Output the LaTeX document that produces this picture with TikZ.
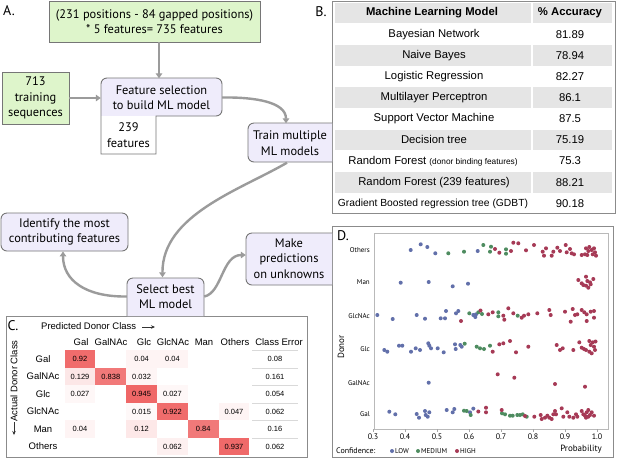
\documentclass[tikz,border=0pt]{standalone}
\usepackage{fontspec}
\setmainfont{PT Sans}
\newfontfamily\arial{Liberation Sans}
\usetikzlibrary{arrows.meta}
\definecolor{boxgreen}{RGB}{222,245,203}
\definecolor{boxpurple}{RGB}{239,236,251}
\definecolor{edge}{RGB}{118,118,118}
\definecolor{flowc}{RGB}{155,155,155}
\definecolor{stripe}{RGB}{229,229,229}
\definecolor{cellred}{RGB}{238,92,92}
\definecolor{lowc}{RGB}{98,112,170}
\definecolor{medc}{RGB}{78,140,96}
\definecolor{highc}{RGB}{166,58,86}
\tikzset{
  ftext/.style={align=center, font=\fontsize{12.4}{15.5}\selectfont, inner sep=0pt},
  gbox/.style={ftext, draw=edge, fill=boxgreen, line width=0.9pt},
  boxline/.style={draw=edge, line width=0.9pt},
  flow/.style={draw=flowc, line width=2.4pt, -{Triangle[length=5pt,width=6.5pt]}},
  panel/.style={draw=edge!85, line width=1pt},
  plabel/.style={font=\fontsize{14}{14}\selectfont, inner sep=0pt},
  tb/.style={font=\arial\fontsize{11.3}{12}\selectfont, inner sep=0pt},
  tbh/.style={font=\arial\bfseries\fontsize{11.3}{12}\selectfont, inner sep=0pt},
  mlab/.style={font=\arial\fontsize{9.5}{10}\selectfont, inner sep=0pt},
  cell/.style={font=\arial\fontsize{7.5}{8}\selectfont, inner sep=0pt, minimum width=30.8pt, minimum height=17.5pt},
  carrow/.style={draw=black!80, line width=0.7pt, -{Stealth[length=4pt,width=3.5pt]}},
  dlab/.style={font=\fontsize{7}{8}\selectfont, inner sep=0pt, anchor=east},
  tick/.style={font=\fontsize{8}{9}\selectfont, inner sep=0pt},
}
\begin{document}
\begin{tikzpicture}[x=1pt,y=-1pt]
\useasboundingbox (0,0) rectangle (617,459);
\fill[white] (0,0) rectangle (617,459);

% ---------- panel frames
\draw[panel] (332,1) rectangle (615,213);
\draw[panel] (6,316) rectangle (307,457);
\draw[panel] (332,226) rectangle (613,457);

% ---------- panel labels
\node[plabel] (labA) at (9,11) {A.};
\node[plabel] (labB) at (321,12) {B.};
\node[plabel] (labC) at (13,326) {C.};
\node[plabel] (labD) at (343,236) {D.};

% ---------- panel A flowchart
\node[gbox, minimum width=211pt, minimum height=41pt] (top) at (154.5,21.5) {(231 positions - 84 gapped positions)\\* 5 features= 735 features};
\node[gbox, minimum width=67pt, minimum height=52pt] (seq) at (35.5,98) {713\\training\\sequences};

\fill[boxpurple] (101,116) -- (101,84) arc[start angle=180,end angle=270,radius=6] -- (216,78) arc[start angle=270,end angle=360,radius=6] -- (222,110) arc[start angle=0,end angle=90,radius=6] -- cycle;
\fill[white] (101,116) rectangle (156,154);
\draw[boxline] (101,154) -- (101,84) arc[start angle=180,end angle=270,radius=6] -- (216,78) arc[start angle=270,end angle=360,radius=6] -- (222,110) arc[start angle=0,end angle=90,radius=6] -- (156,116) -- (156,154) -- cycle;
\node[ftext, minimum width=121pt, minimum height=38pt] (feat) at (161.5,97.5) {Feature selection\\to build ML model};
\node[ftext, minimum width=55pt, minimum height=38pt] (f239) at (128.5,135) {239\\features};

\filldraw[boxline, fill=boxpurple] (332,123) -- (254,123) arc[start angle=270,end angle=180,radius=6] -- (248,156) arc[start angle=180,end angle=90,radius=6] -- (332,162);
\node[ftext, minimum width=84pt, minimum height=39pt] (train) at (290,143) {Train multiple\\ML models};

\filldraw[boxline, fill=boxpurple] (127,316) -- (127,284) arc[start angle=180,end angle=270,radius=6] -- (198,278) arc[start angle=270,end angle=360,radius=6] -- (204,316);
\node[ftext, minimum width=77pt, minimum height=38pt] (select) at (165.5,296.5) {Select best\\ML model};

\node[ftext, draw=edge, line width=0.9pt, fill=boxpurple, rounded corners=6pt, minimum width=127pt, minimum height=38pt] (ident) at (64.5,232) {Identify the most\\contributing features};

\filldraw[boxline, fill=boxpurple] (332,233) -- (252,233) arc[start angle=270,end angle=180,radius=6] -- (246,279) arc[start angle=180,end angle=90,radius=6] -- (332,285);
\node[ftext, minimum width=86pt, minimum height=52pt] (make) at (289,258.5) {Make\\predictions\\on unknowns};

\draw[flow] ([xshift=-2.5pt]feat.north |- top.south) -- ([xshift=-2.5pt]feat.north);
\draw[flow] (seq.east) -- (seq.east -| feat.west);
\draw[flow] (feat.east) .. controls (255,97) and (286,102) .. ([xshift=-4pt]train.north);
\draw[flow] ([xshift=-3pt]train.south) .. controls (240,190) and (162,215) .. ([xshift=-3pt]select.north);
\draw[flow] (select.west) .. controls (85,297) and (63,280) .. ([xshift=-1.5pt]ident.south);
\draw[flow] (select.east) .. controls (222,293) and (222,255) .. ([yshift=3.5pt]make.west);

% ---------- panel B table
\foreach \i in {0,2,4,6,8} {
  \fill[stripe] (335,{13+21.15*\i-10.3}) rectangle (530.5,{13+21.15*\i+10.3});
  \fill[stripe] (532.5,{13+21.15*\i-10.3}) rectangle (612,{13+21.15*\i+10.3});
}
\node[tbh] (bh1) at (432,13) {Machine Learning Model};
\node[tbh] (bh2) at (570,13) {\% Accuracy};
\foreach \i/\m/\a in {1/Bayesian Network/81.89, 2/Naive Bayes/78.94, 3/Logistic Regression/82.27, 4/Multilayer Perceptron/86.1, 5/Support Vector Machine/87.5, 6/Decision tree/75.19, 8/Random Forest (239 features)/88.21} {
  \node[tb] (m\i) at (434,{13+21.15*\i}) {\m};
  \node[tb] (a\i) at (570,{13+21.15*\i}) {\a};
}
\node[tb] (m7) at (433,{13+21.15*7}) {Random Forest {\fontsize{8.3}{9}\selectfont(donor binding features)}};
\node[tb] (a7) at (570,{13+21.15*7}) {75.3};
\node[tb, font=\arial\fontsize{10.3}{11}\selectfont] (m9) at (433,{13+21.15*9}) {Gradient Boosted regression tree (GDBT)};
\node[tb] (a9) at (570,{13+21.15*9}) {90.18};

% ---------- panel C confusion matrix
\node[mlab, anchor=west] (pdc) at (41,326) {Predicted Donor Class};
\coordinate (pdcs) at (142,327);
\coordinate (pdce) at (155,327);
\draw[carrow] (pdcs) -- (pdce);
\node[mlab, rotate=90] (adc) at (14,381) {Actual Donor Class};
\coordinate (adcs) at (14,422);
\coordinate (adce) at (14,435);
\draw[carrow] (adcs) -- (adce);

\foreach \c/\n/\x in {0/Gal/81, 1/GalNAc/111, 2/Glc/144, 3/GlcNAc/173, 4/Man/204, 5/Others/235, 6/Class Error/279}
  \node[mlab] (cl\c) at (\x,342) {\n};
\foreach \r/\n in {0/Gal,1/GalNAc,2/Glc,3/GlcNAc,4/Man,5/Others}
  \node[mlab] (rl\r) at (43,{359+17.5*\r}) {\n};
\foreach \r/\c/\v/\p in {0/0/0.92/90, 0/2/0.04/7, 0/3/0.04/7, 1/0/0.129/15, 1/1/0.838/82, 1/2/0.032/6, 2/0/0.027/5, 2/2/0.945/93, 2/3/0.027/5, 3/2/0.015/4, 3/3/0.922/90, 3/5/0.047/7, 4/0/0.04/7, 4/2/0.12/14, 4/4/0.84/82, 5/3/0.062/9, 5/5/0.937/92}
  \node[cell, fill=cellred!\p!white] (c\r\c) at ({80+30.8*\c},{359+17.5*\r}) {\v};
\foreach \r/\e in {0/0.08,1/0.161,2/0.054,3/0.062,4/0.16,5/0.062} {
  \draw[gray!30, line width=0.6pt] (252,{350.5+17.5*\r}) -- (298,{350.5+17.5*\r});
  \node[cell] (ce\r) at (275,{359+17.5*\r}) {\e};
}

% ---------- panel D strip plot
\draw[gray!55, line width=0.8pt] (374,233) rectangle (608,429);
\foreach \k/\t in {0/0.3,1/0.4,2/0.5,3/0.6,4/0.7,5/0.8,6/0.9,7/1.0} {
  \draw[gray!70, line width=0.6pt] ({373+32*\k},429) -- ({373+32*\k},432);
  \node[tick] (t\k) at ({373+32*\k},437) {\t};
}
\foreach \n/\y in {Others/250, Man/282, GlcNAc/316, Glc/349, GalNAc/383, Gal/414}
  \node[dlab] (dl\n) at (370,\y) {\n};
\node[font=\fontsize{9}{10}\selectfont, rotate=90, inner sep=0pt] (donor) at (341,347) {Donor};
\node[font=\fontsize{9}{10}\selectfont, inner sep=0pt] (prob) at (581,449) {Probability};
\node[font=\fontsize{8}{9}\selectfont, inner sep=0pt, anchor=west] (conf) at (336,451) {Confidence:};
\fill[lowc] (392,451) circle[radius=2];
\node[font=\fontsize{7}{8}\selectfont, inner sep=0pt, anchor=west] (lgl) at (395,451) {LOW};
\fill[medc] (418,451) circle[radius=2];
\node[font=\fontsize{7}{8}\selectfont, inner sep=0pt, anchor=west] (lgm) at (421,451) {MEDIUM};
\fill[highc] (457,451) circle[radius=2];
\node[font=\fontsize{7}{8}\selectfont, inner sep=0pt, anchor=west] (lgh) at (460,451) {HIGH};

\foreach \px/\py in {410.7/250,420.7/244.3,427.3/247,435.3/253.3,477.7/251,
  400.7/282.7,428.7/282,452.7/286.3,468/283.7,
  377.3/315,392.7/319,416.7/315,425/318.7,440.7/318.3,445/318.3,446/311,456/313.3,458.3/311,473.3/315,475.3/317,476/314.3,
  384.3/350,387.3/351.7,399/345.7,402.3/345.7,411/351.7,415.7/348.3,420/350,428.3/343.3,429.3/345.7,431/348.3,437.7/348.3,443.7/352.3,455/344.3,455.7/349,460.3/345,461.7/346.7,
  428.7/382.7,
  389.3/411.7,395.3/414.3,416.7/414,419/417.7,425/411,425.7/415,427.7/416.7,429.3/412.3,446.7/410,452.7/412.3,454.3/409,470/412.3,473.3/408.6}
  \fill[lowc] (\px,\py) circle[radius=2];
\foreach \px/\py in {448.3/253.3,464/251.7,483.3/245,491/246.7,490/251.7,506/249.3,506/253.7,
  469.3/313.3,478.3/312.3,482/314,498.3/312.3,498.3/316.3,517.7/315.7,
  464.7/343.7,476.7/346.7,480/348.3,484/349,490/345.7,
  464/410.7,466.7/411,470.7/415,502/413.3,505/414.3,510/415.7,512.7/415.7,517.3/415,520/415,522.7/414.3,526.7/416.7}
  \fill[medc] (\px,\py) circle[radius=2];
\foreach \px/\py in {495/249,499.3/252.7,511/251,513.3/242.7,518.3/243.3,526/250.3,534/245,542.7/251.7,546/248.3,544/255.7,551.7/255.7,553.3/251.7,557.3/247.7,560/251,565.7/245,566.7/252.3,570/249,571.7/253.3,574/254.3,581.7/255,585/254.3,586/248.3,588.3/251,589.3/247,591.7/250,592.7/254.3,594/248.3,595/252.3,596/255.7,587.3/255,
  578.3/280,581.7/283.3,586/276.7,583.3/285,587.3/281,590/282.3,593.3/279,588.3/287.7,590.7/284.3,586/285.7,
  461/321,480.5/310.5,488.3/314.3,492.7/312.3,503.3/315.7,504.3/319.7,508.3/308.3,513.3/313.3,521.7/317.7,524/315.7,528.3/314.3,537.3/313.3,549.3/310,550.7/315,565/311.7,570.7/321.7,572.7/309,575/315,577.3/314.3,581.7/310,584.3/312.3,586.7/314.3,590.7/311.7,594/311,594/317.7,586.7/321,
  492.7/351.7,499.3/344.3,503.3/343.3,510/341,516/352.3,528.3/346.7,556.7/345,560/350,562.7/348.3,573.3/350,579.3/342.3,581.7/347.7,584/349,589.3/341,590.7/345,592.7/342.3,594/346.7,595/350,591.7/353.3,595.5/341.5,589.3/351.7,586/350,
  497.7/374.3,514.3/377.7,555/384,585/386.7,
  478.3/411.5,486/412.3,486/407.7,501.7/410,525/416,534.3/416.7,540.7/415,541.7/419,545/417.7,547.3/415.7,549.3/417.7,551.7/419,553.3/414.3,555/411,556/414.3,561.7/408.3,563.3/416.7,567.3/412.3,569.3/416.7,573.3/417.7,576/414.3,577.3/416.7,581.7/411,583.3/414.3,585/415.7,586.7/412.3,588.3/410,590/415,591.7/412.3,594/415.7,588.3/416.7,586/417.7}
  \fill[highc] (\px,\py) circle[radius=2];
\end{tikzpicture}
\end{document}
